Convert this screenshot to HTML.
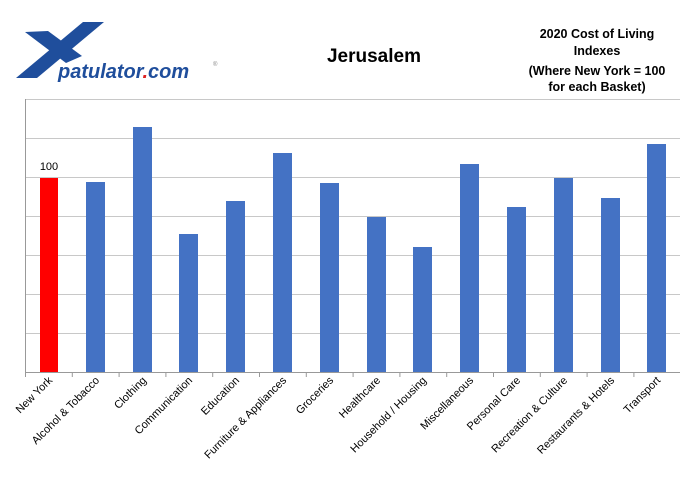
<!DOCTYPE html>
<html><head><meta charset="utf-8"><style>
body{margin:0;background:#fff;width:683px;height:478px;overflow:hidden}
text{font-family:"Liberation Sans",Arial,sans-serif}
</style></head><body>
<svg width="683" height="478" xmlns="http://www.w3.org/2000/svg">
<!-- logo -->
<polygon points="25,32 48,31 82,56 66,63" fill="#1f4e9c"/>
<polygon points="16,78 37,78 104,22 83,22" fill="#1f4e9c"/>
<text x="58" y="78" font-size="20" font-weight="bold" font-style="italic" fill="#1f4e9c">patulator<tspan fill="#d22">.</tspan>com</text>
<text x="213" y="66" font-size="6" fill="#888">®</text>
<text x="374" y="62" font-size="19" font-weight="bold" text-anchor="middle" fill="#000">Jerusalem</text>
<g font-size="12.5" font-weight="bold" text-anchor="middle" fill="#000">
<text x="597" y="38">2020 Cost of Living</text>
<text x="597" y="55">Indexes</text>
<text x="597" y="75">(Where New York = 100</text>
<text x="597" y="91">for each Basket)</text>
</g>
<g stroke="#c8c8c8" stroke-width="1">
<line x1="25" y1="99.5" x2="680" y2="99.5"/>
<line x1="25" y1="138.5" x2="680" y2="138.5"/>
<line x1="25" y1="177.5" x2="680" y2="177.5"/>
<line x1="25" y1="216.5" x2="680" y2="216.5"/>
<line x1="25" y1="255.5" x2="680" y2="255.5"/>
<line x1="25" y1="294.5" x2="680" y2="294.5"/>
<line x1="25" y1="333.5" x2="680" y2="333.5"/>
</g>
<line x1="25.5" y1="99" x2="25.5" y2="372" stroke="#999"/>
<line x1="25" y1="372.5" x2="680" y2="372.5" stroke="#999"/>
<g stroke="#999">
<line x1="25.5" y1="372" x2="25.5" y2="377"/><line x1="72.3" y1="372" x2="72.3" y2="377"/><line x1="119.1" y1="372" x2="119.1" y2="377"/><line x1="165.9" y1="372" x2="165.9" y2="377"/><line x1="212.7" y1="372" x2="212.7" y2="377"/><line x1="259.5" y1="372" x2="259.5" y2="377"/><line x1="306.3" y1="372" x2="306.3" y2="377"/><line x1="353.1" y1="372" x2="353.1" y2="377"/><line x1="399.9" y1="372" x2="399.9" y2="377"/><line x1="446.7" y1="372" x2="446.7" y2="377"/><line x1="493.5" y1="372" x2="493.5" y2="377"/><line x1="540.3" y1="372" x2="540.3" y2="377"/><line x1="587.1" y1="372" x2="587.1" y2="377"/><line x1="633.9" y1="372" x2="633.9" y2="377"/>
</g>
<rect x="40" y="178" width="18" height="194" fill="#ff0000"/>
<g fill="#4472c4">
<rect x="86" y="182" width="19" height="190"/>
<rect x="133" y="127" width="19" height="245"/>
<rect x="179" y="234" width="19" height="138"/>
<rect x="226" y="201" width="19" height="171"/>
<rect x="273" y="153" width="19" height="219"/>
<rect x="320" y="183" width="19" height="189"/>
<rect x="367" y="217" width="19" height="155"/>
<rect x="413" y="247" width="19" height="125"/>
<rect x="460" y="164" width="19" height="208"/>
<rect x="507" y="207" width="19" height="165"/>
<rect x="554" y="178" width="19" height="194"/>
<rect x="601" y="198" width="19" height="174"/>
<rect x="647" y="144" width="19" height="228"/>
</g>
<text x="49" y="170" font-size="11" text-anchor="middle" fill="#000">100</text>
<g font-size="11" fill="#000" text-anchor="end">
<text transform="translate(53,381) rotate(-45)">New York</text>
<text transform="translate(100,381) rotate(-45)">Alcohol &amp; Tobacco</text>
<text transform="translate(147,381) rotate(-45)">Clothing</text>
<text transform="translate(193,381) rotate(-45)">Communication</text>
<text transform="translate(240,381) rotate(-45)">Education</text>
<text transform="translate(287,381) rotate(-45)">Furniture &amp; Appliances</text>
<text transform="translate(334,381) rotate(-45)">Groceries</text>
<text transform="translate(381,381) rotate(-45)">Healthcare</text>
<text transform="translate(427,381) rotate(-45)">Household / Housing</text>
<text transform="translate(474,381) rotate(-45)">Miscellaneous</text>
<text transform="translate(521,381) rotate(-45)">Personal Care</text>
<text transform="translate(568,381) rotate(-45)">Recreation &amp; Culture</text>
<text transform="translate(615,381) rotate(-45)">Restaurants &amp; Hotels</text>
<text transform="translate(661,381) rotate(-45)">Transport</text>
</g>
</svg>
</body></html>
